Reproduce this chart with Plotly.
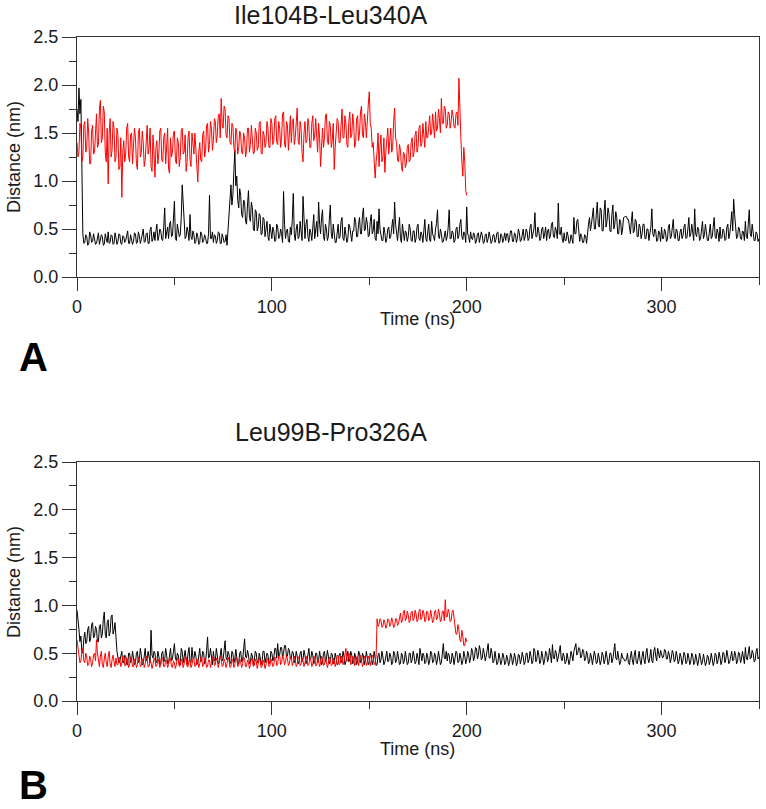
import plotly.graph_objects as go

# ---------------- data ----------------
titles = ["Ile104B-Leu340A", "Leu99B-Pro326A"]
panel_letters = ["A", "B"]
x_ticks = [0, 100, 200, 300]

# time axis in ns, sampled every 0.5 ns
time_long = [i * 0.5 for i in range(701)]    # 0 .. 350 ns (black traces)
time_short = [i * 0.5 for i in range(401)]   # 0 .. 200 ns (red traces)

a_black = [
    1.75, 1.62, 1.97, 1.70, 1.85, 1.20, 0.45, 0.35, 0.36, 0.44, 0.42, 0.33, 0.34, 0.47, 0.44, 0.36, 0.37, 0.45, 0.41, 0.34,
    0.35, 0.43, 0.46, 0.34, 0.38, 0.44, 0.42, 0.33, 0.34, 0.45, 0.40, 0.36, 0.47, 0.35, 0.36, 0.44, 0.43, 0.34, 0.35, 0.46,
    0.41, 0.34, 0.37, 0.45, 0.44, 0.35, 0.34, 0.43, 0.42, 0.36, 0.38, 0.46, 0.48, 0.35, 0.35, 0.44, 0.40, 0.34, 0.37, 0.46,
    0.45, 0.35, 0.36, 0.47, 0.43, 0.35, 0.39, 0.48, 0.50, 0.36, 0.37, 0.45, 0.46, 0.35, 0.35, 0.49, 0.52, 0.37, 0.40, 0.47,
    0.38, 0.48, 0.55, 0.38, 0.42, 0.50, 0.48, 0.39, 0.38, 0.52, 0.72, 0.40, 0.45, 0.52, 0.40, 0.55, 0.58, 0.42, 0.43, 0.60,
    0.79, 0.40, 0.38, 0.55, 0.50, 0.42, 0.44, 0.62, 0.96, 0.75, 0.55, 0.40, 0.42, 0.52, 0.47, 0.38, 0.65, 0.42, 0.39, 0.48,
    0.44, 0.35, 0.37, 0.46, 0.42, 0.34, 0.36, 0.47, 0.45, 0.36, 0.38, 0.44, 0.41, 0.35, 0.35, 0.45, 0.85, 0.40, 0.40, 0.47,
    0.36, 0.44, 0.43, 0.35, 0.38, 0.47, 0.46, 0.35, 0.35, 0.45, 0.41, 0.36, 0.37, 0.44, 0.33, 0.48, 0.62, 0.88, 0.96, 0.75,
    0.85, 1.10, 1.32, 0.95, 1.05, 0.80, 0.72, 0.92, 0.85, 0.65, 0.62, 0.80, 0.78, 0.58, 0.55, 0.75, 0.90, 0.62, 0.58, 0.78,
    0.72, 0.50, 0.48, 0.70, 0.68, 0.48, 0.52, 0.66, 0.64, 0.44, 0.45, 0.62, 0.60, 0.42, 0.50, 0.58, 0.42, 0.38, 0.55, 0.45,
    0.40, 0.52, 0.48, 0.37, 0.38, 0.55, 0.52, 0.40, 0.42, 0.50, 0.45, 0.36, 0.89, 0.55, 0.40, 0.48, 0.50, 0.37, 0.36, 0.52,
    0.44, 0.60, 0.87, 0.45, 0.38, 0.50, 0.55, 0.40, 0.42, 0.58, 0.48, 0.38, 0.84, 0.50, 0.40, 0.55, 0.60, 0.42, 0.37, 0.50,
    0.46, 0.38, 0.52, 0.65, 0.40, 0.48, 0.58, 0.42, 0.78, 0.55, 0.45, 0.62, 0.70, 0.42, 0.38, 0.55, 0.50, 0.38, 0.42, 0.60,
    0.75, 0.45, 0.40, 0.55, 0.47, 0.36, 0.36, 0.50, 0.55, 0.40, 0.42, 0.58, 0.62, 0.40, 0.38, 0.52, 0.45, 0.36, 0.40, 0.55,
    0.52, 0.40, 0.37, 0.48, 0.48, 0.62, 0.58, 0.42, 0.42, 0.55, 0.62, 0.45, 0.45, 0.65, 0.72, 0.48, 0.50, 0.62, 0.55, 0.42,
    0.43, 0.58, 0.65, 0.45, 0.48, 0.60, 0.40, 0.38, 0.58, 0.45, 0.71, 0.50, 0.44, 0.38, 0.38, 0.52, 0.46, 0.36, 0.40, 0.50,
    0.52, 0.40, 0.42, 0.55, 0.60, 0.45, 0.78, 0.55, 0.45, 0.38, 0.50, 0.62, 0.40, 0.36, 0.55, 0.45, 0.38, 0.48, 0.46, 0.37,
    0.42, 0.55, 0.50, 0.38, 0.37, 0.48, 0.48, 0.36, 0.40, 0.52, 0.55, 0.40, 0.38, 0.47, 0.44, 0.36, 0.52, 0.60, 0.40, 0.37,
    0.47, 0.55, 0.38, 0.37, 0.58, 0.45, 0.42, 0.38, 0.50, 0.56, 0.70, 0.42, 0.40, 0.50, 0.45, 0.36, 0.37, 0.46, 0.48, 0.38,
    0.42, 0.52, 0.70, 0.40, 0.40, 0.48, 0.46, 0.36, 0.38, 0.50, 0.52, 0.40, 0.43, 0.55, 0.60, 0.42, 0.39, 0.47, 0.45, 0.36,
    0.73, 0.45, 0.42, 0.36, 0.47, 0.40, 0.39, 0.46, 0.44, 0.35, 0.37, 0.45, 0.46, 0.36, 0.40, 0.47, 0.43, 0.35, 0.36, 0.44,
    0.45, 0.36, 0.40, 0.47, 0.42, 0.35, 0.37, 0.44, 0.44, 0.36, 0.39, 0.46, 0.47, 0.35, 0.36, 0.45, 0.43, 0.36, 0.40, 0.46,
    0.38, 0.45, 0.45, 0.36, 0.41, 0.48, 0.48, 0.37, 0.37, 0.46, 0.44, 0.36, 0.40, 0.50, 0.46, 0.37, 0.38, 0.47, 0.50, 0.38,
    0.42, 0.50, 0.47, 0.38, 0.40, 0.52, 0.55, 0.40, 0.44, 0.50, 0.67, 0.42, 0.42, 0.52, 0.48, 0.38, 0.40, 0.50, 0.52, 0.40,
    0.45, 0.52, 0.38, 0.48, 0.50, 0.40, 0.43, 0.55, 0.57, 0.42, 0.41, 0.52, 0.48, 0.40, 0.77, 0.45, 0.44, 0.52, 0.40, 0.36,
    0.46, 0.38, 0.38, 0.47, 0.43, 0.35, 0.36, 0.44, 0.40, 0.35, 0.62, 0.45, 0.45, 0.58, 0.60, 0.42, 0.37, 0.45, 0.42, 0.36,
    0.36, 0.44, 0.43, 0.35, 0.48, 0.55, 0.62, 0.48, 0.55, 0.68, 0.72, 0.50, 0.50, 0.65, 0.78, 0.55, 0.52, 0.72, 0.70, 0.48,
    0.48, 0.68, 0.80, 0.52, 0.58, 0.72, 0.66, 0.48, 0.47, 0.65, 0.75, 0.50, 0.55, 0.68, 0.62, 0.45, 0.45, 0.60, 0.58, 0.44,
    0.50, 0.62, 0.63, 0.63, 0.63, 0.60, 0.60, 0.48, 0.45, 0.58, 0.68, 0.46, 0.48, 0.60, 0.58, 0.42, 0.42, 0.55, 0.52, 0.40,
    0.45, 0.55, 0.55, 0.40, 0.40, 0.50, 0.50, 0.38, 0.44, 0.52, 0.71, 0.45, 0.42, 0.50, 0.48, 0.37, 0.38, 0.48, 0.46, 0.37,
    0.52, 0.40, 0.40, 0.50, 0.47, 0.37, 0.39, 0.52, 0.55, 0.40, 0.42, 0.55, 0.60, 0.42, 0.40, 0.50, 0.48, 0.38, 0.38, 0.47,
    0.50, 0.40, 0.43, 0.52, 0.55, 0.40, 0.41, 0.50, 0.62, 0.42, 0.45, 0.55, 0.48, 0.38, 0.71, 0.45, 0.42, 0.52, 0.50, 0.38,
    0.40, 0.52, 0.58, 0.40, 0.44, 0.55, 0.48, 0.38, 0.38, 0.50, 0.55, 0.40, 0.42, 0.52, 0.62, 0.42, 0.40, 0.50, 0.46, 0.37,
    0.52, 0.40, 0.41, 0.50, 0.48, 0.38, 0.39, 0.52, 0.55, 0.40, 0.45, 0.55, 0.68, 0.48, 0.81, 0.65, 0.48, 0.40, 0.42, 0.52,
    0.50, 0.40, 0.39, 0.48, 0.47, 0.38, 0.58, 0.42, 0.40, 0.52, 0.70, 0.45, 0.42, 0.55, 0.48, 0.38, 0.38, 0.47, 0.45, 0.37,
    0.40,
]

a_red = [
    1.40, 1.25, 1.30, 1.60, 1.55, 1.20, 1.25, 1.58, 1.62, 1.30, 1.35, 1.65, 1.50, 1.18, 1.18, 1.52, 1.58, 1.28, 1.30, 1.62,
    1.70, 1.35, 1.38, 1.75, 1.84, 1.40, 1.45, 1.78, 1.72, 1.30, 1.20, 1.55, 0.97, 1.50, 1.65, 1.25, 1.32, 1.62, 1.55, 1.20,
    1.25, 1.55, 1.48, 1.12, 1.15, 1.45, 0.83, 1.30, 1.42, 1.20, 1.28, 1.55, 1.60, 1.25, 1.20, 1.48, 1.50, 1.18, 1.32, 1.55,
    1.45, 1.18, 1.12, 1.50, 1.55, 1.25, 1.30, 1.52, 1.40, 1.15, 1.22, 1.48, 1.58, 1.28, 1.35, 1.55, 1.15, 1.10, 1.48, 1.30,
    1.04, 1.35, 1.42, 1.18, 1.28, 1.52, 1.55, 1.22, 1.20, 1.45, 1.50, 1.18, 1.35, 1.55, 1.12, 1.08, 1.45, 1.25, 1.30, 1.50,
    1.52, 1.22, 1.18, 1.45, 1.40, 1.15, 1.25, 1.52, 1.55, 1.28, 1.30, 1.48, 1.10, 1.20, 1.45, 1.52, 1.22, 1.15, 1.50, 1.35,
    1.28, 1.50, 1.35, 1.15, 0.99, 1.30, 1.40, 1.22, 1.20, 1.48, 1.52, 1.25, 1.32, 1.58, 1.60, 1.30, 1.38, 1.62, 1.55, 1.32,
    1.42, 1.65, 1.62, 1.40, 1.48, 1.68, 1.70, 1.45, 1.86, 1.60, 1.55, 1.78, 1.75, 1.48, 1.45, 1.68, 1.65, 1.40, 1.38, 1.60,
    1.58, 1.35, 1.30, 1.55, 1.50, 1.28, 1.35, 1.52, 1.48, 1.30, 1.28, 1.50, 1.45, 1.25, 1.32, 1.55, 1.55, 1.30, 1.38, 1.58,
    1.42, 1.28, 1.30, 1.55, 1.50, 1.32, 1.35, 1.60, 1.62, 1.30, 1.28, 1.52, 1.48, 1.35, 1.40, 1.62, 1.55, 1.35, 1.35, 1.65,
    1.60, 1.38, 1.42, 1.65, 1.68, 1.40, 1.38, 1.62, 1.55, 1.35, 1.45, 1.70, 1.72, 1.38, 1.35, 1.62, 1.58, 1.32, 1.50, 1.68,
    1.40, 1.62, 1.65, 1.38, 1.45, 1.70, 1.76, 1.42, 1.38, 1.62, 1.55, 1.30, 1.20, 1.50, 1.62, 1.40, 1.42, 1.65, 1.58, 1.35,
    1.35, 1.60, 1.68, 1.42, 1.48, 1.65, 1.40, 1.30, 1.60, 1.45, 1.15, 1.40, 1.55, 1.35, 1.45, 1.68, 1.70, 1.42, 1.38, 1.62,
    1.58, 1.35, 1.42, 1.60, 1.12, 1.35, 1.50, 1.65, 1.62, 1.40, 1.40, 1.60, 1.75, 1.45, 1.45, 1.68, 1.60, 1.38, 1.35, 1.62,
    1.72, 1.45, 1.48, 1.70, 1.58, 1.35, 1.40, 1.65, 1.68, 1.42, 1.50, 1.72, 1.78, 1.48, 1.45, 1.70, 1.62, 1.45, 1.70, 1.80,
    1.93, 1.60, 1.55, 1.35, 1.40, 1.25, 1.03, 1.20, 1.30, 1.50, 1.15, 1.35, 1.48, 1.20, 1.25, 1.45, 1.09, 1.30, 1.42, 1.55,
    1.28, 1.45, 1.55, 1.30, 1.35, 1.62, 1.76, 1.45, 1.40, 1.22, 1.20, 1.38, 1.32, 1.15, 1.10, 1.30, 1.28, 1.14, 1.18, 1.35,
    1.38, 1.20, 1.22, 1.40, 1.45, 1.25, 1.30, 1.48, 1.52, 1.30, 1.35, 1.55, 1.58, 1.36, 1.40, 1.60, 1.48, 1.35, 1.62, 1.45,
    1.45, 1.62, 1.68, 1.48, 1.50, 1.70, 1.58, 1.45, 1.72, 1.52, 1.55, 1.75, 1.65, 1.50, 1.86, 1.60, 1.60, 1.78, 1.75, 1.55,
    1.58, 1.72, 1.70, 1.55, 1.62, 1.74, 1.68, 1.56, 1.55, 1.70, 1.72, 1.58, 2.07, 1.65, 1.45, 1.20, 1.05, 1.35, 1.20, 0.90,
    0.85,
]

b_black = [
    0.95, 0.80, 0.75, 0.62, 0.68, 0.52, 0.50, 0.65, 0.72, 0.60, 0.62, 0.75, 0.78, 0.62, 0.65, 0.80, 0.82, 0.66, 0.68, 0.78,
    0.75, 0.62, 0.62, 0.78, 0.80, 0.66, 0.70, 0.85, 0.93, 0.70, 0.66, 0.82, 0.85, 0.68, 0.72, 0.88, 0.90, 0.70, 0.74, 0.82,
    0.60, 0.52, 0.46, 0.40, 0.42, 0.50, 0.52, 0.40, 0.40, 0.48, 0.47, 0.38, 0.38, 0.50, 0.50, 0.40, 0.42, 0.52, 0.45, 0.38,
    0.40, 0.50, 0.52, 0.40, 0.43, 0.55, 0.48, 0.38, 0.39, 0.50, 0.55, 0.42, 0.44, 0.52, 0.47, 0.40, 0.74, 0.48, 0.45, 0.52,
    0.50, 0.40, 0.41, 0.52, 0.47, 0.38, 0.39, 0.50, 0.52, 0.41, 0.43, 0.55, 0.48, 0.39, 0.40, 0.52, 0.55, 0.42, 0.44, 0.52,
    0.60, 0.45, 0.42, 0.50, 0.48, 0.38, 0.40, 0.55, 0.52, 0.40, 0.45, 0.53, 0.43, 0.38, 0.50, 0.56, 0.41, 0.40, 0.56, 0.45,
    0.44, 0.52, 0.47, 0.38, 0.40, 0.50, 0.55, 0.41, 0.43, 0.52, 0.50, 0.39, 0.41, 0.53, 0.67, 0.45, 0.46, 0.55, 0.44, 0.38,
    0.52, 0.42, 0.42, 0.55, 0.48, 0.39, 0.40, 0.52, 0.55, 0.42, 0.44, 0.53, 0.63, 0.45, 0.43, 0.52, 0.49, 0.39, 0.41, 0.52,
    0.50, 0.40, 0.44, 0.54, 0.47, 0.38, 0.40, 0.50, 0.52, 0.41, 0.43, 0.52, 0.65, 0.46, 0.45, 0.53, 0.48, 0.39, 0.41, 0.50,
    0.47, 0.38, 0.43, 0.52, 0.50, 0.40, 0.40, 0.50, 0.46, 0.38, 0.42, 0.52, 0.52, 0.40, 0.44, 0.50, 0.48, 0.39, 0.41, 0.52,
    0.50, 0.42, 0.45, 0.55, 0.55, 0.45, 0.60, 0.47, 0.48, 0.56, 0.56, 0.45, 0.50, 0.58, 0.58, 0.46, 0.47, 0.55, 0.53, 0.44,
    0.45, 0.52, 0.50, 0.40, 0.43, 0.52, 0.47, 0.39, 0.41, 0.50, 0.52, 0.41, 0.44, 0.53, 0.48, 0.39, 0.42, 0.50, 0.55, 0.43,
    0.44, 0.52, 0.48, 0.39, 0.41, 0.50, 0.50, 0.40, 0.43, 0.52, 0.46, 0.38, 0.40, 0.50, 0.52, 0.41, 0.44, 0.53, 0.47, 0.39,
    0.42, 0.50, 0.49, 0.39, 0.41, 0.50, 0.45, 0.38, 0.39, 0.48, 0.50, 0.40, 0.43, 0.52, 0.47, 0.38, 0.41, 0.50, 0.52, 0.41,
    0.44, 0.52, 0.48, 0.39, 0.40, 0.50, 0.46, 0.38, 0.42, 0.52, 0.50, 0.40, 0.41, 0.50, 0.47, 0.38, 0.43, 0.52, 0.45, 0.38,
    0.40, 0.50, 0.48, 0.38, 0.42, 0.52, 0.45, 0.37, 0.38, 0.48, 0.50, 0.40, 0.43, 0.52, 0.46, 0.38, 0.41, 0.50, 0.52, 0.41,
    0.42, 0.50, 0.47, 0.38, 0.40, 0.52, 0.50, 0.40, 0.43, 0.52, 0.46, 0.38, 0.39, 0.50, 0.48, 0.39, 0.42, 0.52, 0.45, 0.38,
    0.40, 0.50, 0.50, 0.40, 0.43, 0.52, 0.47, 0.39, 0.41, 0.50, 0.45, 0.38, 0.55, 0.45, 0.42, 0.50, 0.48, 0.39, 0.40, 0.50,
    0.46, 0.38, 0.42, 0.52, 0.50, 0.40, 0.41, 0.50, 0.47, 0.38, 0.43, 0.52, 0.45, 0.38, 0.40, 0.50, 0.60, 0.45, 0.44, 0.52,
    0.42, 0.50, 0.48, 0.39, 0.40, 0.50, 0.46, 0.38, 0.43, 0.52, 0.50, 0.40, 0.41, 0.50, 0.45, 0.38, 0.42, 0.52, 0.47, 0.39,
    0.43, 0.52, 0.48, 0.40, 0.45, 0.55, 0.52, 0.42, 0.46, 0.56, 0.55, 0.44, 0.48, 0.58, 0.53, 0.43, 0.45, 0.55, 0.50, 0.42,
    0.47, 0.56, 0.60, 0.45, 0.45, 0.55, 0.50, 0.40, 0.42, 0.52, 0.47, 0.38, 0.40, 0.50, 0.45, 0.38, 0.42, 0.50, 0.46, 0.38,
    0.40, 0.48, 0.44, 0.37, 0.41, 0.50, 0.47, 0.38, 0.42, 0.50, 0.45, 0.37, 0.40, 0.49, 0.48, 0.39, 0.43, 0.51, 0.46, 0.38,
    0.41, 0.50, 0.50, 0.40, 0.43, 0.52, 0.47, 0.39, 0.42, 0.55, 0.52, 0.41, 0.44, 0.53, 0.48, 0.39, 0.42, 0.52, 0.46, 0.38,
    0.43, 0.52, 0.50, 0.41, 0.45, 0.55, 0.48, 0.40, 0.59, 0.45, 0.44, 0.53, 0.50, 0.41, 0.46, 0.55, 0.58, 0.44, 0.42, 0.50,
    0.47, 0.39, 0.41, 0.50, 0.45, 0.38, 0.43, 0.52, 0.48, 0.42, 0.52, 0.58, 0.60, 0.48, 0.50, 0.56, 0.55, 0.45, 0.47, 0.54,
    0.52, 0.42, 0.44, 0.52, 0.48, 0.39, 0.41, 0.50, 0.46, 0.38, 0.43, 0.52, 0.47, 0.39, 0.40, 0.50, 0.45, 0.38, 0.42, 0.51,
    0.48, 0.39, 0.43, 0.52, 0.46, 0.38, 0.41, 0.50, 0.50, 0.40, 0.44, 0.53, 0.60, 0.45, 0.43, 0.52, 0.47, 0.38, 0.41, 0.50,
    0.45, 0.45, 0.42, 0.42, 0.44, 0.50, 0.40, 0.38, 0.46, 0.52, 0.43, 0.38, 0.48, 0.53, 0.41, 0.39, 0.45, 0.52, 0.42, 0.38,
    0.47, 0.52, 0.43, 0.39, 0.50, 0.55, 0.44, 0.40, 0.46, 0.54, 0.42, 0.40, 0.52, 0.56, 0.47, 0.42, 0.55, 0.50, 0.45, 0.53,
    0.50, 0.45, 0.46, 0.54, 0.53, 0.44, 0.44, 0.52, 0.48, 0.40, 0.45, 0.53, 0.50, 0.41, 0.43, 0.52, 0.47, 0.39, 0.42, 0.50,
    0.46, 0.38, 0.43, 0.51, 0.48, 0.39, 0.41, 0.50, 0.45, 0.38, 0.42, 0.50, 0.47, 0.38, 0.40, 0.49, 0.44, 0.37, 0.42, 0.50,
    0.45, 0.38, 0.41, 0.49, 0.43, 0.37, 0.40, 0.48, 0.46, 0.38, 0.42, 0.50, 0.44, 0.37, 0.41, 0.50, 0.48, 0.39, 0.43, 0.51,
    0.46, 0.38, 0.42, 0.51, 0.50, 0.40, 0.44, 0.53, 0.47, 0.39, 0.41, 0.50, 0.52, 0.42, 0.43, 0.52, 0.48, 0.39, 0.42, 0.51,
    0.50, 0.40, 0.44, 0.52, 0.47, 0.39, 0.56, 0.45, 0.43, 0.52, 0.57, 0.44, 0.45, 0.53, 0.50, 0.41, 0.42, 0.52, 0.55, 0.44,
    0.46,
]

b_red = [
    0.64, 0.52, 0.48, 0.40, 0.42, 0.52, 0.55, 0.42, 0.40, 0.50, 0.46, 0.37, 0.38, 0.47, 0.44, 0.36, 0.40, 0.48, 0.50, 0.42,
    0.64, 0.50, 0.42, 0.36, 0.47, 0.52, 0.38, 0.35, 0.44, 0.50, 0.40, 0.36, 0.46, 0.52, 0.39, 0.35, 0.43, 0.48, 0.41, 0.36,
    0.45, 0.38, 0.38, 0.46, 0.43, 0.36, 0.40, 0.47, 0.47, 0.37, 0.37, 0.45, 0.42, 0.35, 0.39, 0.46, 0.44, 0.36, 0.36, 0.44,
    0.41, 0.35, 0.38, 0.46, 0.45, 0.36, 0.37, 0.44, 0.42, 0.35, 0.39, 0.47, 0.44, 0.36, 0.36, 0.43, 0.40, 0.34, 0.38, 0.45,
    0.43, 0.36, 0.37, 0.44, 0.41, 0.35, 0.39, 0.46, 0.45, 0.36, 0.36, 0.43, 0.42, 0.35, 0.38, 0.46, 0.44, 0.36, 0.35, 0.42,
    0.40, 0.34, 0.38, 0.45, 0.43, 0.36, 0.37, 0.44, 0.41, 0.35, 0.39, 0.46, 0.46, 0.36, 0.36, 0.43, 0.42, 0.35, 0.38, 0.45,
    0.44, 0.36, 0.37, 0.44, 0.41, 0.35, 0.39, 0.46, 0.45, 0.36, 0.38, 0.45, 0.42, 0.35, 0.36, 0.43, 0.43, 0.35, 0.39, 0.46,
    0.47, 0.37, 0.38, 0.45, 0.42, 0.35, 0.40, 0.47, 0.44, 0.36, 0.37, 0.44, 0.41, 0.35, 0.39, 0.46, 0.43, 0.35, 0.36, 0.44,
    0.42, 0.35, 0.38, 0.46, 0.45, 0.36, 0.37, 0.44, 0.41, 0.35, 0.39, 0.46, 0.44, 0.36, 0.36, 0.43, 0.40, 0.34, 0.38, 0.45,
    0.43, 0.36, 0.37, 0.44, 0.41, 0.34, 0.39, 0.46, 0.42, 0.35, 0.36, 0.43, 0.40, 0.34, 0.38, 0.45, 0.43, 0.36, 0.37, 0.44,
    0.41, 0.36, 0.38, 0.46, 0.45, 0.37, 0.39, 0.47, 0.48, 0.38, 0.40, 0.47, 0.46, 0.38, 0.41, 0.48, 0.44, 0.37, 0.39, 0.46,
    0.45, 0.37, 0.40, 0.47, 0.43, 0.36, 0.38, 0.46, 0.46, 0.37, 0.39, 0.45, 0.42, 0.36, 0.40, 0.47, 0.44, 0.37, 0.38, 0.45,
    0.43, 0.36, 0.39, 0.47, 0.45, 0.37, 0.37, 0.44, 0.42, 0.36, 0.40, 0.47, 0.44, 0.37, 0.38, 0.45, 0.41, 0.35, 0.39, 0.46,
    0.44, 0.37, 0.38, 0.45, 0.42, 0.36, 0.40, 0.48, 0.47, 0.38, 0.39, 0.47, 0.45, 0.38, 0.41, 0.49, 0.55, 0.42, 0.42, 0.50,
    0.48, 0.38, 0.40, 0.47, 0.44, 0.37, 0.38, 0.46, 0.46, 0.37, 0.41, 0.48, 0.43, 0.36, 0.39, 0.47, 0.45, 0.37, 0.40, 0.47,
    0.44, 0.37, 0.42, 0.48, 0.46, 0.38, 0.40, 0.47, 0.86, 0.78, 0.80, 0.86, 0.84, 0.77, 0.78, 0.85, 0.82, 0.76, 0.79, 0.86,
    0.85, 0.78, 0.80, 0.87, 0.83, 0.77, 0.78, 0.86, 0.86, 0.79, 0.81, 0.88, 0.92, 0.82, 0.84, 0.93, 0.95, 0.84, 0.86, 0.94,
    0.90, 0.82, 0.84, 0.93, 0.94, 0.84, 0.86, 0.95, 0.91, 0.83, 0.85, 0.94, 0.96, 0.85, 0.87, 0.95, 0.92, 0.83, 0.85, 0.94,
    0.93, 0.84, 0.86, 0.95, 0.90, 0.82, 0.84, 0.93, 0.95, 0.85, 0.87, 0.96, 0.91, 0.83, 0.85, 0.94, 0.94, 0.84, 1.06, 0.88,
    0.88, 0.96, 0.92, 0.83, 0.84, 0.93, 0.95, 0.85, 0.78, 0.70, 0.70, 0.80, 0.74, 0.64, 0.62, 0.74, 0.68, 0.58, 0.58, 0.66,
    0.62,
]

# ---------------- figure ----------------
W, H = 766, 809
FONT = "Liberation Sans, Arial, Helvetica, sans-serif"
AXIS_COLOR = "#333333"

def px_x(p):
    return p / W

def px_y(p):
    return 1 - p / H

x_dom = [px_x(77), px_x(759)]
y_dom_a = [px_y(277), px_y(37)]
y_dom_b = [px_y(701), px_y(462)]

fig = go.Figure()
fig.add_trace(go.Scatter(x=time_long, y=a_black, mode="lines", xaxis="x", yaxis="y",
                         line=dict(color="black", width=1), showlegend=False, hoverinfo="skip"))
fig.add_trace(go.Scatter(x=time_short, y=a_red, mode="lines", xaxis="x", yaxis="y",
                         line=dict(color="red", width=1), showlegend=False, hoverinfo="skip"))
fig.add_trace(go.Scatter(x=time_long, y=b_black, mode="lines", xaxis="x2", yaxis="y2",
                         line=dict(color="black", width=1), showlegend=False, hoverinfo="skip"))
fig.add_trace(go.Scatter(x=time_short, y=b_red, mode="lines", xaxis="x2", yaxis="y2",
                         line=dict(color="red", width=1), showlegend=False, hoverinfo="skip"))

def xaxis_cfg(anchor):
    return dict(domain=x_dom, anchor=anchor, range=[0, 350], tickvals=x_ticks,
                automargin=False, fixedrange=True,
                showline=True, linecolor=AXIS_COLOR, linewidth=1, mirror=True,
                ticks="outside", ticklen=13, tickwidth=1, tickcolor=AXIS_COLOR,
                minor=dict(ticks="outside", ticklen=7, dtick=50, tick0=0,
                           tickcolor=AXIS_COLOR, showgrid=False),
                showgrid=False, zeroline=False,
                tickfont=dict(family=FONT, size=18, color="#1a1a1a"))

def yaxis_cfg(anchor, dom):
    return dict(domain=dom, anchor=anchor, range=[0, 2.5], dtick=0.5, tick0=0,
                tickformat=".1f", automargin=False, fixedrange=True,
                showline=True, linecolor=AXIS_COLOR, linewidth=1, mirror=True,
                ticks="outside", ticklen=14, tickwidth=1, tickcolor=AXIS_COLOR,
                minor=dict(ticks="outside", ticklen=7, dtick=0.25, tick0=0,
                           tickcolor=AXIS_COLOR, showgrid=False),
                showgrid=False, zeroline=False,
                tickfont=dict(family=FONT, size=18, color="#1a1a1a"))

annotations = []
for i, (title, letter) in enumerate(zip(titles, panel_letters)):
    title_y = [15, 432][i]
    xlabel_y = [319, 749][i]
    ylabel_y = [157, 582][i]
    letter_y = [357, 785][i]
    annotations.append(dict(text=title, x=px_x(331), y=px_y(title_y), xref="paper", yref="paper",
                            xanchor="center", yanchor="middle", showarrow=False,
                            font=dict(family=FONT, size=25, color="#1a1a1a")))
    annotations.append(dict(text="Time (ns)", x=px_x(418), y=px_y(xlabel_y), xref="paper", yref="paper",
                            xanchor="center", yanchor="middle", showarrow=False,
                            font=dict(family=FONT, size=18, color="#1a1a1a")))
    annotations.append(dict(text="Distance (nm)", x=px_x(14), y=px_y(ylabel_y), xref="paper", yref="paper",
                            xanchor="center", yanchor="middle", showarrow=False, textangle=-90,
                            font=dict(family=FONT, size=18, color="#1a1a1a")))
    annotations.append(dict(text="<b>%s</b>" % letter, x=px_x(33), y=px_y(letter_y), xref="paper", yref="paper",
                            xanchor="center", yanchor="middle", showarrow=False,
                            font=dict(family=FONT, size=40, color="#000000")))

fig.update_layout(
    template="none",
    width=W, height=H,
    margin=dict(l=0, r=0, t=0, b=0, pad=0),
    paper_bgcolor="white", plot_bgcolor="white",
    xaxis=xaxis_cfg("y"), yaxis=yaxis_cfg("x", y_dom_a),
    xaxis2=xaxis_cfg("y2"), yaxis2=yaxis_cfg("x2", y_dom_b),
    annotations=annotations,
    showlegend=False,
    hovermode=False,
)

fig.write_html("out.html",
               config={"displayModeBar": False, "staticPlot": True},
               post_script="document.body.style.margin='0px';document.body.style.overflow='hidden';")
